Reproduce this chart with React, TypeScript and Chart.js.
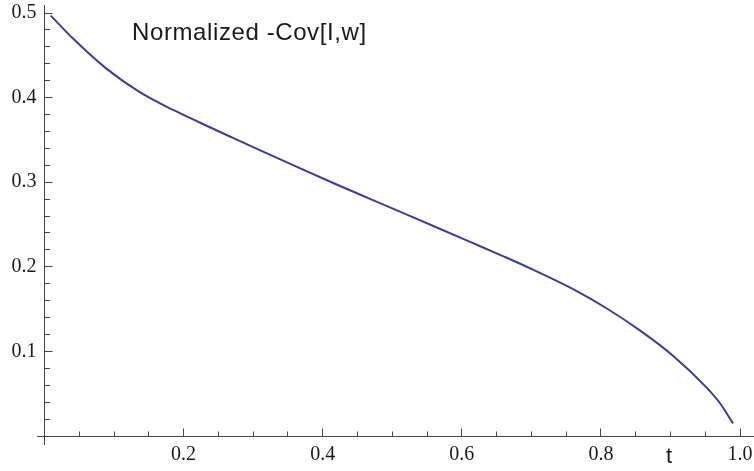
import React, { useEffect, useRef } from "react";
import { Chart, registerables } from "chart.js";

Chart.register(...registerables);

// ---- data ----
const tValues = [
  0.009, 0.041, 0.089, 0.137, 0.185, 0.223, 0.271, 0.319, 0.367, 0.415, 0.468,
  0.516, 0.564, 0.612, 0.659, 0.703, 0.76, 0.808, 0.856, 0.904, 0.952, 0.971, 0.99,
];
const covValues = [
  0.497, 0.4698, 0.4343, 0.4065, 0.3854, 0.3706, 0.3524, 0.3344, 0.3166, 0.2991, 0.2803,
  0.2634, 0.2465, 0.2295, 0.2127, 0.1964, 0.1736, 0.151, 0.1248, 0.0946, 0.0572, 0.039, 0.0149,
];
const xTickLabels = ["0.2", "0.4", "0.6", "0.8", "1.0"];
const yTickLabels = ["0.1", "0.2", "0.3", "0.4", "0.5"];
const xMinorStep = 0.05;
const yMinorStep = 0.02;
const plotTitle = "Normalized -Cov[I,w]";
const xAxisLabel = "t";

const AXIS_COLOR = "#444444";
const CURVE_COLOR = "#3d3d99";

const mmaAxes = {
  id: "mmaAxes",
  beforeDatasetsDraw(chart: any) {
    const ctx = chart.ctx;
    const xs = chart.scales.x;
    const ys = chart.scales.y;
    const x0 = xs.getPixelForValue(0);
    const y0 = ys.getPixelForValue(0);
    const yl = y0 + 0.5;
    ctx.save();
    ctx.strokeStyle = AXIS_COLOR;
    ctx.lineWidth = 1;
    ctx.beginPath();
    // x axis
    ctx.moveTo(x0 - 7.5, yl);
    ctx.lineTo(chart.width, yl);
    // y axis
    ctx.moveTo(x0, chart.chartArea.top);
    ctx.lineTo(x0, y0 + 9);
    // x ticks
    for (let k = 1; k * xMinorStep <= xs.max + 1e-9; k++) {
      const v = k * xMinorStep;
      const p = Math.round(xs.getPixelForValue(v) - 0.5) + 0.5;
      const len = k % 4 === 0 ? 8 : 5;
      ctx.moveTo(p, yl);
      ctx.lineTo(p, yl - len);
    }
    // y ticks
    for (let k = 1; k * yMinorStep <= ys.max + 1e-9; k++) {
      const v = k * yMinorStep;
      const p = Math.round(ys.getPixelForValue(v) - 0.5) + 0.5;
      const len = k % 5 === 0 ? 8 : 5.5;
      ctx.moveTo(x0, p);
      ctx.lineTo(x0 + len, p);
    }
    ctx.stroke();
    ctx.restore();
  },
  afterDraw(chart: any) {
    const ctx = chart.ctx;
    ctx.save();
    ctx.fillStyle = "#1a1a1a";
    ctx.textAlign = "left";
    ctx.textBaseline = "alphabetic";
    ctx.font = '24px "Liberation Sans", Arial, sans-serif';
    try {
      (ctx as any).letterSpacing = "0.6px";
    } catch (e) {}
    ctx.fillText(plotTitle, 132, 40);
    try {
      (ctx as any).letterSpacing = "0px";
    } catch (e) {}
    ctx.textAlign = "center";
    ctx.font = '22px "Liberation Sans", Arial, sans-serif';
    ctx.fillText(xAxisLabel, 669, 463);
    ctx.restore();
  },
};

export default function App() {
  const canvasRef = useRef<HTMLCanvasElement | null>(null);

  useEffect(() => {
    document.body.style.margin = "0";
    const canvas = canvasRef.current;
    if (!canvas) return;
    const points = tValues.map((t, i) => ({ x: t, y: covValues[i] }));
    const chart = new Chart(canvas, {
      type: "scatter",
      data: {
        datasets: [
          {
            data: points,
            showLine: true,
            borderColor: CURVE_COLOR,
            backgroundColor: CURVE_COLOR,
            borderWidth: 2,
            pointRadius: 0,
            cubicInterpolationMode: "monotone",
            clip: false as any,
          },
        ],
      },
      options: {
        responsive: false,
        animation: false,
        devicePixelRatio: 1,
        layout: { padding: { top: 5, right: 0, left: 0, bottom: 0 } },
        plugins: {
          legend: { display: false },
          tooltip: { enabled: false },
          title: { display: false },
        },
        scales: {
          x: {
            type: "linear",
            min: 0,
            max: 1.0201,
            grid: { display: false, drawTicks: false },
            border: { display: false },
            ticks: {
              stepSize: 0.2,
              includeBounds: false,
              autoSkip: false,
              maxRotation: 0,
              padding: 7,
              color: "#1a1a1a",
              font: { family: '"Liberation Serif", "Times New Roman", serif', size: 20 },
              callback: (v: any) => {
                const idx = Math.round(Number(v) / 0.2) - 1;
                return idx >= 0 && idx < xTickLabels.length ? xTickLabels[idx] : "";
              },
            },
            afterFit: (s: any) => {
              s.height = 35;
              s.paddingLeft = 0;
              s.paddingRight = 0;
            },
          },
          y: {
            type: "linear",
            min: 0,
            max: 0.5095,
            grid: { display: false, drawTicks: false },
            border: { display: false },
            ticks: {
              stepSize: 0.1,
              includeBounds: false,
              autoSkip: false,
              padding: 8,
              color: "#1a1a1a",
              font: { family: '"Liberation Serif", "Times New Roman", serif', size: 20 },
              callback: (v: any) => {
                const idx = Math.round(Number(v) / 0.1) - 1;
                return idx >= 0 && idx < yTickLabels.length ? yTickLabels[idx] : "";
              },
            },
            afterFit: (s: any) => {
              s.width = 44.5;
              s.paddingTop = 0;
              s.paddingBottom = 0;
            },
          },
        },
      },
      plugins: [mmaAxes],
    });
    return () => chart.destroy();
  }, []);

  return (
    <div style={{ width: 754, height: 471 }}>
      <canvas ref={canvasRef} width={754} height={471} style={{ display: "block" }} />
    </div>
  );
}
